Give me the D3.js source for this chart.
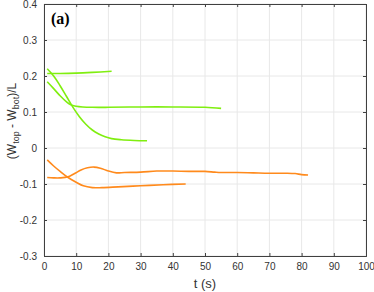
<!DOCTYPE html>
<html>
<head>
<meta charset="utf-8">
<script src="https://cdn.jsdelivr.net/npm/d3@7"></script>
<style>
  body { margin: 0; background: #fff; }
</style>
</head>
<body>
<script>
// data
var xTicks = [0, 10, 20, 30, 40, 50, 60, 70, 80, 90, 100];
var yTicks = [-0.3, -0.2, -0.1, 0, 0.1, 0.2, 0.3, 0.4];

var green1T = [1, 5, 10, 15, 21];
var green1V = [0.207, 0.207, 0.208, 0.210, 0.213];

var green2T = [1, 3, 5, 7, 9, 11, 13, 15, 17, 19, 21, 24, 28, 32];
var green2V = [0.220, 0.200, 0.173, 0.143, 0.113, 0.087, 0.066, 0.050, 0.039, 0.031, 0.026, 0.023, 0.021, 0.020];

var green3T = [1, 3, 5, 7, 8.3, 10, 12, 15, 20, 30, 40, 50, 55];
var green3V = [0.184, 0.165, 0.145, 0.128, 0.120, 0.116, 0.114, 0.113, 0.113, 0.114, 0.114, 0.113, 0.110];

var orangeAT = [1, 3, 5, 7.5, 10, 12.2, 15, 18, 23, 30, 37, 44];
var orangeAV = [-0.033, -0.050, -0.065, -0.082, -0.095, -0.105, -0.110, -0.110, -0.108, -0.105, -0.102, -0.100];

var orangeBT = [1, 3, 5, 7.5, 9.5, 11.5, 13.5, 15.5, 17.5, 20, 22.5, 25, 30, 35, 40, 45, 50, 53, 55, 60, 65, 70, 75, 78, 80, 82];
var orangeBV = [-0.082, -0.083, -0.083, -0.080, -0.071, -0.061, -0.055, -0.053, -0.056, -0.064, -0.069, -0.068, -0.067, -0.064, -0.064, -0.065, -0.065, -0.067, -0.068, -0.068, -0.069, -0.070, -0.070, -0.071, -0.074, -0.075];

var green = "#80ee10";
var orange = "#ff8a1c";

var svgWidth = 374;
var svgHeight = 292;
var margin = {top: 4, right: 8, bottom: 36, left: 44};
var width = svgWidth - margin.left - margin.right;
var height = svgHeight - margin.top - margin.bottom;

var svg = d3.select("body")
  .append("svg")
  .attr("width", svgWidth)
  .attr("height", svgHeight);

var chartGroup = svg.append("g")
  .attr("transform", "translate(" + margin.left + "," + margin.top + ")");

var xScale = d3.scaleLinear().domain([0, 100]).range([0, width]);
var yScale = d3.scaleLinear().domain([-0.3, 0.4]).range([height, 0]);

// grid
chartGroup.append("g")
  .selectAll("line")
  .data(xTicks)
  .enter()
  .append("line")
  .attr("x1", d => xScale(d)).attr("x2", d => xScale(d))
  .attr("y1", 0).attr("y2", height)
  .attr("stroke", "#e8e8e8");

chartGroup.append("g")
  .selectAll("line")
  .data(yTicks)
  .enter()
  .append("line")
  .attr("x1", 0).attr("x2", width)
  .attr("y1", d => yScale(d)).attr("y2", d => yScale(d))
  .attr("stroke", "#e8e8e8");

// curves
var series = [
  {t: green1T, v: green1V, c: green},
  {t: green2T, v: green2V, c: green},
  {t: green3T, v: green3V, c: green},
  {t: orangeAT, v: orangeAV, c: orange},
  {t: orangeBT, v: orangeBV, c: orange}
];

var line = d3.line()
  .x(d => xScale(d[0]))
  .y(d => yScale(d[1]))
  .curve(d3.curveCatmullRom.alpha(0.5));

series.forEach(function(s) {
  var pts = s.t.map(function(t, i) { return [t, s.v[i]]; });
  chartGroup.append("path")
    .datum(pts)
    .attr("d", line)
    .attr("fill", "none")
    .attr("stroke", s.c)
    .attr("stroke-width", 1.6);
});

// axes, MATLAB style box with inward ticks
var axisColor = "#404040";

var bottomAxis = d3.axisBottom(xScale).tickValues(xTicks).tickSize(-3).tickPadding(7).tickFormat(d3.format("d"));
var leftAxis = d3.axisLeft(yScale).tickValues(yTicks).tickSize(-3).tickPadding(7)
  .tickFormat(d => d === 0 ? "0" : d3.format(".1f")(d).replace("\u2212", "-"));
var topAxis = d3.axisTop(xScale).tickValues(xTicks).tickSize(-3).tickFormat("");
var rightAxis = d3.axisRight(yScale).tickValues(yTicks).tickSize(-3).tickFormat("");

var gx = chartGroup.append("g").attr("transform", "translate(0," + height + ")").call(bottomAxis);
var gy = chartGroup.append("g").call(leftAxis);
var gt = chartGroup.append("g").call(topAxis);
var gr = chartGroup.append("g").attr("transform", "translate(" + width + ",0)").call(rightAxis);

[gx, gy, gt, gr].forEach(function(g) {
  g.select(".domain").attr("stroke", axisColor).attr("stroke-width", 1);
  g.selectAll(".tick line").attr("stroke", axisColor);
  g.selectAll(".tick text")
    .attr("fill", "#333")
    .style("font-size", "10px")
    .style("font-family", "'Liberation Sans', Arial, sans-serif");
});

// labels
svg.append("text")
  .attr("x", 51)
  .attr("y", 24)
  .style("font-family", "'Liberation Serif', 'Times New Roman', serif")
  .style("font-weight", "bold")
  .style("font-size", "16px")
  .attr("fill", "#000")
  .text("(a)");

svg.append("text")
  .attr("x", margin.left + width / 2)
  .attr("y", 288)
  .attr("text-anchor", "middle")
  .style("font-family", "'Liberation Sans', Arial, sans-serif")
  .style("font-size", "13px")
  .attr("fill", "#333")
  .text("t (s)");

var yLabel = svg.append("text")
  .attr("transform", "translate(16," + 121 + ") rotate(-90)")
  .attr("text-anchor", "middle")
  .style("font-family", "'Liberation Sans', Arial, sans-serif")
  .style("font-size", "12px")
  .attr("fill", "#333");

yLabel.append("tspan").text("(W");
yLabel.append("tspan").attr("dy", 3).style("font-size", "9px").text("top");
yLabel.append("tspan").attr("dy", -3).text(" - W");
yLabel.append("tspan").attr("dy", 3).style("font-size", "9px").text("bot");
yLabel.append("tspan").attr("dy", -3).text(")/L");
</script>
</body>
</html>
